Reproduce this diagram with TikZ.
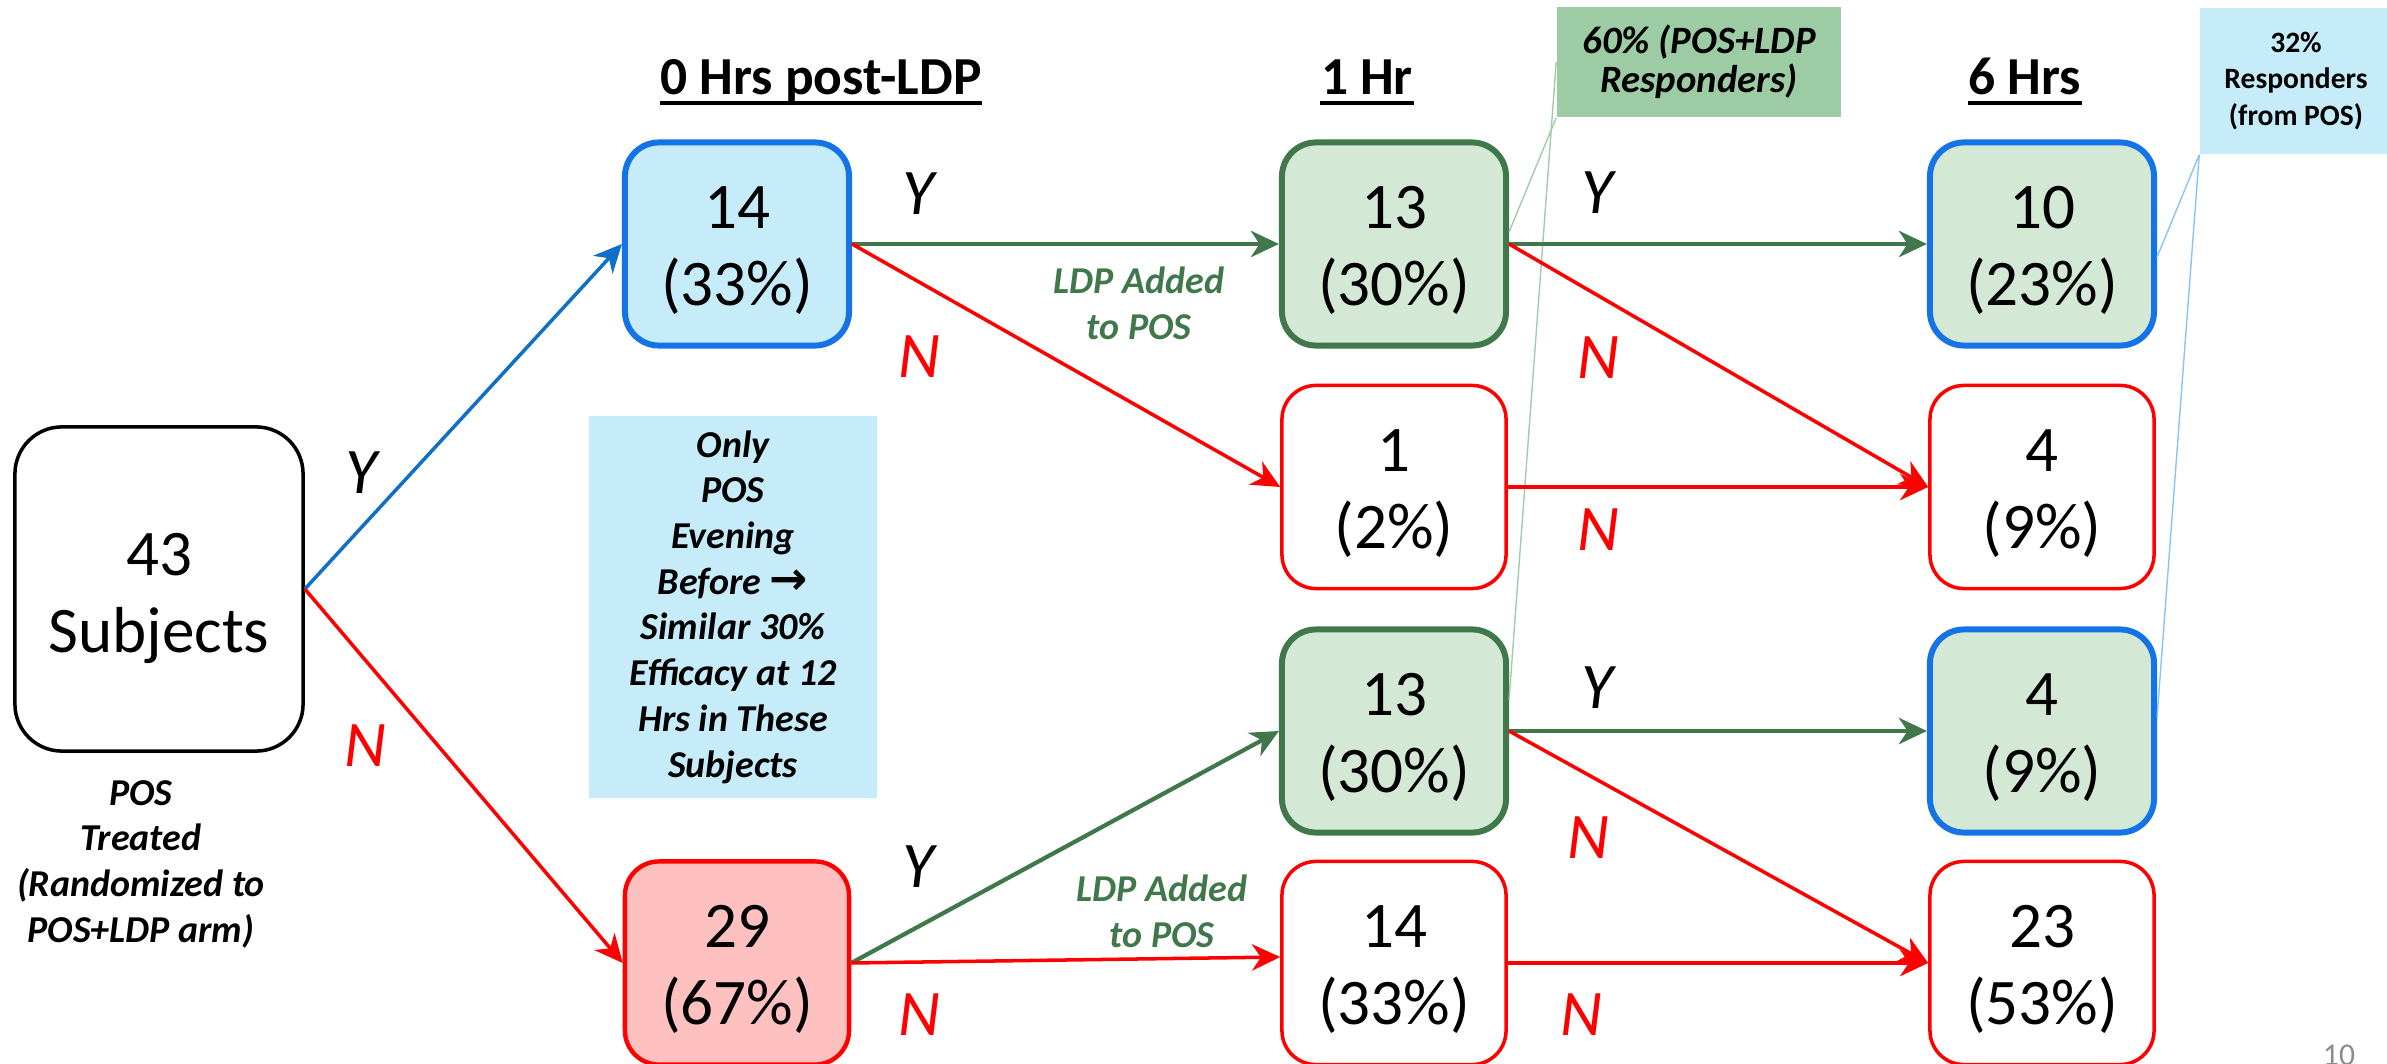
\documentclass[tikz,border=0pt]{standalone}
\usepackage{fontspec}
\setmainfont{Carlito}
\newfontfamily\arrowfont{DejaVu Sans}
\usetikzlibrary{arrows.meta,calc}
\definecolor{bbord}{RGB}{20,115,230}
\definecolor{bfill}{RGB}{198,236,250}
\definecolor{gbord}{RGB}{65,120,75}
\definecolor{gfill}{RGB}{212,232,214}
\definecolor{gcall}{RGB}{157,203,164}
\definecolor{pfill}{RGB}{255,192,192}
\definecolor{barrow}{RGB}{16,112,200}
\definecolor{pgnum}{RGB}{140,140,140}
\definecolor{gline}{RGB}{160,205,168}
\definecolor{bline}{RGB}{140,195,245}
\newcommand\twol[3]{\rule{0pt}{#1}#2\\#3}
\begin{document}
\begin{tikzpicture}[x=0.01cm,y=-0.01cm,
  numbox/.style={rectangle, rounded corners=0.34cm, minimum width=2.24cm, minimum height=2.03cm,
    align=center, inner sep=0pt, font=\fontsize{18.5}{22}\selectfont},
  bluebox/.style={numbox, draw=bbord, line width=1.7pt, fill=bfill},
  bgbox/.style={numbox, draw=bbord, line width=1.7pt, fill=gfill},
  greenbox/.style={numbox, draw=gbord, line width=1.7pt, fill=gfill},
  redbox/.style={numbox, draw=red, line width=1pt, fill=white},
  pinkbox/.style={numbox, draw=red, line width=1.25pt, fill=pfill},
  subjbox/.style={rectangle, rounded corners=0.47cm, minimum width=2.88cm, minimum height=3.24cm,
    align=center, inner sep=0pt, font=\fontsize{18.5}{22}\selectfont, draw=black, line width=1pt},
  hdr/.style={anchor=base, inner sep=0pt, font=\fontsize{15.2}{18}\selectfont\bfseries},
  note/.style={align=center, inner sep=0pt, font=\fontsize{10.8}{13}\selectfont\bfseries\itshape},
  ldp/.style={note, text=gbord},
  yn/.style={inner sep=0pt, font=\fontsize{18.5}{22}\selectfont\itshape},
  nn/.style={yn, text=red},
  arr/.style={-{Stealth[length=8pt,width=7.5pt,inset=2.5pt]}, line width=1pt},
  garr/.style={arr, draw=gbord, line width=1.2pt},
  rarr/.style={arr, draw=red},
  barr/.style={arr, draw=barrow},
  gcl/.style={draw=gline, line width=0.4pt},
  bcl/.style={draw=bline, line width=0.4pt}
]
\useasboundingbox (0,0) rectangle (2387,1064);

% boxes
\node[subjbox] (s) at (159,589) {\twol{17.5pt}{43}{Subjects}};
\node[bluebox] (a14) at (737,244) {\twol{15.6pt}{14}{(33\%)}};
\node[pinkbox] (a29) at (737,963) {\twol{15.6pt}{29}{(67\%)}};
\node[greenbox] (b13) at (1394,244) {\twol{15.6pt}{13}{(30\%)}};
\node[redbox] (b1) at (1394,487) {\twol{15.6pt}{1}{(2\%)}};
\node[greenbox] (b13l) at (1394,731) {\twol{15.6pt}{13}{(30\%)}};
\node[redbox] (b14) at (1394,963) {\twol{15.6pt}{14}{(33\%)}};
\node[bgbox] (c10) at (2042,244) {\twol{15.6pt}{10}{(23\%)}};
\node[redbox] (c4) at (2042,487) {\twol{15.6pt}{4}{(9\%)}};
\node[bgbox] (c4b) at (2042,731) {\twol{15.6pt}{4}{(9\%)}};
\node[redbox] (c23) at (2042,963) {\twol{15.6pt}{23}{(53\%)}};

% headers
\node[hdr] (h0) at (821,95) {0 Hrs post-LDP};
\node[hdr] (h1) at (1367,95) {1 Hr};
\node[hdr] (h6) at (2025,95) {6 Hrs};
\foreach \h in {h0,h1,h6}
  \draw[line width=1.1pt] ([yshift=-2.2pt]\h.base west) -- ([yshift=-2.2pt]\h.base east);

% notes
\node[note] (pos) at (141,864) {POS\\Treated\\(Randomized to\\POS+LDP arm)};
\node[note, fill=bfill, minimum width=2.87cm, minimum height=3.81cm] (only) at (733,607)
  {Only\\POS\\Evening\\Before {\arrowfont\bfseries\upshape\fontsize{13}{13}\selectfont →}\\Similar 30\%\\Efficacy at 12\\Hrs in These\\Subjects};
\node[ldp] (l1) at (1139,303) {LDP Added\\to POS};
\node[ldp] (l2) at (1162,911) {LDP Added\\to POS};
\node[note, font=\fontsize{11}{11}\selectfont\bfseries\itshape, fill=gcall, minimum width=2.84cm, minimum height=1.10cm] (gc) at (1699,62) {60\% (POS+LDP\\Responders)};
\node[align=center, inner sep=0pt, font=\fontsize{8.4}{10.5}\selectfont\bfseries, fill=bfill, minimum width=1.92cm, minimum height=1.46cm] (bc) at (2296,81) {32\%\\Responders\\(from POS)};
\node[anchor=base, inner sep=0pt, text=pgnum, font=\fontsize{9}{10}\selectfont] (pg) at (2339,1065) {10};

% Y / N labels
\node[yn] (y0) at (361,473) {Y};
\node[nn] (n0) at (365,746) {N};
\node[yn] (y1) at (918,194) {Y};
\node[nn] (n1) at (919,357) {N};
\node[yn] (y2) at (918,867) {Y};
\node[nn] (n2) at (919,1015) {N};
\node[yn] (y3) at (1597,193) {Y};
\node[nn] (n3) at (1598,358) {N};
\node[nn] (n4) at (1598,530) {N};
\node[yn] (y5) at (1597,688) {Y};
\node[nn] (n5) at (1588,838) {N};
\node[nn] (n6) at (1581,1015) {N};

% callout lines
\draw[gcl] (gc.south west) -- ($(b13.east)+(0,-12)$);
\draw[gcl] (gc.west) -- ($(b13l.east)+(0,-31)$);
\draw[bcl] (bc.south west) -- ($(c10.east)+(0,13)$);
\draw[bcl] (bc.south west) -- ($(c4b.east)+(0,-14)$);

% arrows
\draw[barr] (s.east) -- (a14.west);
\draw[rarr] (s.east) -- (a29.west);
\draw[garr] (a14.east) -- (b13.west);
\draw[rarr] (a14.east) -- (b1.west);
\draw[garr] (a29.east) -- (b13l.west);
\draw[rarr] (a29.east) -- ($(b14.west)+(0,-6)$);
\draw[garr] (b13.east) -- (c10.west);
\draw[rarr] (b13.east) -- (c4.west);
\draw[rarr] (b1.east) -- (c4.west);
\draw[garr] (b13l.east) -- (c4b.west);
\draw[rarr] (b13l.east) -- (c23.west);
\draw[rarr] (b14.east) -- (c23.west);
\end{tikzpicture}
\end{document}
